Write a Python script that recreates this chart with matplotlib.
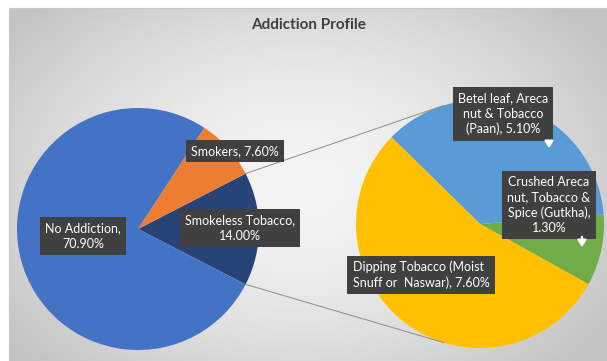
import numpy as np
import matplotlib
matplotlib.use("Agg")
import matplotlib.pyplot as plt

# ----------------------
# DATA
# ----------------------
main_labels = ["No Addiction", "Smokers", "Smokeless Tobacco"]
main_values = [70.9, 7.6, 14.0]
main_colors = ["#4472C4", "#ED7D31", "#264478"]

sub_labels = ["Betel leaf, Areca\nnut & Tobacco\n(Paan)",
              "Crushed Areca\nnut, Tobacco &\nSpice (Gutkha),\n",
              "Dipping Tobacco (Moist\nSnuff or  Naswar)"]
sub_values = [5.1, 1.3, 7.6]
sub_colors = ["#5B9BD5", "#70AD47", "#FFC000"]

title = "Addiction Profile"

plt.rcParams["font.family"] = ["Lato", "DejaVu Sans"]

W, H = 607, 361
fig = plt.figure(figsize=(W / 100, H / 100), dpi=100)
ax = fig.add_axes([0, 0, 1, 1])

# ----------------------
# BACKGROUND (grey radial gradient panel)
# ----------------------
px0, py_top = 9, H - 8
yy, xx = np.mgrid[0:py_top, px0:W]
d = np.hypot((xx - 300) / 330.0, (yy - 175) / 230.0)
shade = np.clip(245 - 42 * d ** 1.6, 195, 250) / 255.0
ax.imshow(np.dstack([shade] * 3), extent=(px0, W, 0, py_top),
          origin="lower", zorder=0, interpolation="bilinear")
ax.plot([px0, px0, W], [0, py_top, py_top], color="#c8c8c8", lw=0.8, zorder=1)

# ----------------------
# PIES
# ----------------------
lc, lr = (138, 132), 121
rc, rr = (480, 137), 124

# main pie: smokeless wedge centred on the right side
total = sum(main_values)
half = main_values[2] / total * 360 / 2
ax.pie(main_values[::-1], colors=main_colors[::-1], startangle=-half,
       counterclock=True, center=lc, radius=lr,
       wedgeprops=dict(linewidth=0), frame=True)

# secondary pie: Gutkha, Paan, Dipping counter-clockwise
ax.pie([sub_values[1], sub_values[0], sub_values[2]],
       colors=[sub_colors[1], sub_colors[0], sub_colors[2]],
       startangle=-29, counterclock=True, center=rc, radius=rr,
       wedgeprops=dict(linewidth=0), frame=True)
ax.set_xlim(0, W)
ax.set_ylim(0, H)
ax.set_aspect("equal")
ax.axis("off")

# connector lines
for sgn in (1, -1):
    a1 = np.deg2rad(sgn * half)
    a2 = np.deg2rad(sgn * 107)
    ax.plot([lc[0] + lr * np.cos(a1), rc[0] + rr * np.cos(a2)],
            [lc[1] + lr * np.sin(a1), rc[1] + rr * np.sin(a2)],
            color="#8c8c8c", lw=0.7, zorder=3)

# ----------------------
# LABELS
# ----------------------
box = dict(facecolor="#404040", edgecolor="none", boxstyle="square,pad=0.42")
kw = dict(color="white", fontsize=9, ha="center", va="center",
          bbox=box, zorder=5, linespacing=1.3)

ax.text(83, 125, f"{main_labels[0]},\n{main_values[0]:.2f}%", **kw)
ax.text(235, 210, f"{main_labels[1]}, {main_values[1]:.2f}%", **kw)
ax.text(240, 133, f"{main_labels[2]},\n{main_values[2]:.2f}%", **kw)
ax.text(503, 247, f"{sub_labels[0]}, {sub_values[0]:.2f}%", **kw)
ax.text(549, 156, f"{sub_labels[1]}{sub_values[1]:.2f}%", **kw)
ax.text(421, 86, f"{sub_labels[2]}, {sub_values[2]:.2f}%",
        multialignment="left", **kw)

# small leader arrows
for x, y0, y1 in [(549, 222, 210), (582, 127, 111)]:
    ax.annotate("", xy=(x, y1), xytext=(x, y0),
                arrowprops=dict(arrowstyle="-|>,head_width=0.25,head_length=0.4",
                                color="white", lw=1.6), zorder=6)

ax.text(309, 336, title, ha="center", va="center", fontsize=11,
        fontweight="bold", color="#404040", zorder=5)

fig.savefig("out.png", dpi=100)
